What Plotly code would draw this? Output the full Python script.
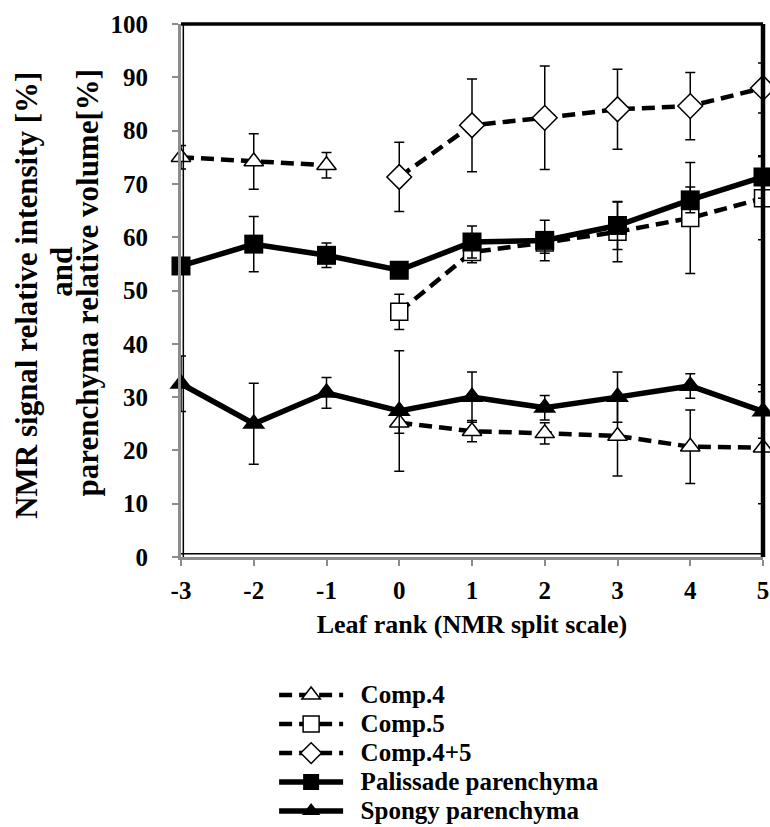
import plotly.graph_objects as go

# Leaf rank categories
rank_early = [-3, -2, -1]
rank_late = [0, 1, 2, 3, 4, 5]
rank_all = [-3, -2, -1, 0, 1, 2, 3, 4, 5]

# Comp.4 (two separate segments)
comp4_early = [75.0, 74.2, 73.5]
comp4_early_err = [2.2, 5.2, 2.4]
comp4_late = [25.2, 23.6, 23.2, 22.7, 20.7, 20.5]
comp4_late_err = [2.0, 2.0, 2.0, 7.5, 6.9, 10.5]

# Comp.5
comp5 = [46.0, 57.2, 59.0, 61.0, 63.6, 67.3]
comp5_err = [3.3, 2.0, 2.0, 5.6, 10.4, 7.8]

# Comp.4+5
comp45 = [71.3, 81.0, 82.4, 84.0, 84.6, 88.0]
comp45_err = [6.5, 8.7, 9.7, 7.5, 6.3, 4.7]

# Palissade parenchyma
palissade = [54.6, 58.7, 56.6, 53.8, 59.1, 59.4, 62.2, 67.0, 71.3]
palissade_err = [1.5, 5.2, 2.3, 1.0, 3.0, 3.8, 4.5, 2.4, 4.0]

# Spongy parenchyma
spongy = [32.5, 25.0, 30.8, 27.4, 30.0, 28.0, 30.0, 32.1, 27.3]
spongy_err = [5.2, 7.6, 2.9, 11.3, 4.7, 2.3, 4.7, 2.3, 5.0]

x_ticks = [-3, -2, -1, 0, 1, 2, 3, 4, 5]
y_ticks = [0, 10, 20, 30, 40, 50, 60, 70, 80, 90, 100]

y_title_lines = ["NMR signal relative intensity [%]", "and", "parenchyma relative volume[%]"]

FONT = "Liberation Serif, Times New Roman, Times, serif"

def bfont(size):
    return dict(family=FONT, size=size, color="black", weight="bold")

def err(vals):
    return dict(type="data", array=vals, visible=True, color="black",
                thickness=1.5, width=5)

def open_marker(sym, size):
    return dict(symbol=sym, size=size, color="white", line=dict(color="black", width=1.5))

def lname(s):
    return "<span style='font-size:25px'>\u00a0\u00a0" + s + "</span>"

DASH = "13px,7px"

fig = go.Figure()
fig.add_trace(go.Scatter(x=rank_early, y=comp4_early, mode="lines+markers",
                         name=lname("Comp.4"), legendgroup="c4",
                         line=dict(color="black", width=4.5, dash=DASH),
                         marker=open_marker("triangle-up", 17),
                         error_y=err(comp4_early_err), cliponaxis=False))
fig.add_trace(go.Scatter(x=rank_late, y=comp4_late, mode="lines+markers",
                         name=lname("Comp.4"), legendgroup="c4", showlegend=False,
                         line=dict(color="black", width=4.5, dash=DASH),
                         marker=open_marker("triangle-up", 17),
                         error_y=err(comp4_late_err), cliponaxis=False))
fig.add_trace(go.Scatter(x=rank_late, y=comp5, mode="lines+markers",
                         name=lname("Comp.5"),
                         line=dict(color="black", width=4.5, dash=DASH),
                         marker=open_marker("square", 17),
                         error_y=err(comp5_err), cliponaxis=False))
fig.add_trace(go.Scatter(x=rank_late, y=comp45, mode="lines+markers",
                         name=lname("Comp.4+5"),
                         line=dict(color="black", width=4.5, dash=DASH),
                         marker=open_marker("diamond", 19),
                         error_y=err(comp45_err), cliponaxis=False))
fig.add_trace(go.Scatter(x=rank_all, y=palissade, mode="lines+markers",
                         name=lname("Palissade parenchyma"),
                         line=dict(color="black", width=5.5),
                         marker=dict(symbol="square", size=19, color="black"),
                         error_y=err(palissade_err), cliponaxis=False))
fig.add_trace(go.Scatter(x=rank_all, y=spongy, mode="lines+markers",
                         name=lname("Spongy parenchyma"),
                         line=dict(color="black", width=5.5),
                         marker=dict(symbol="triangle-up", size=20, color="black"),
                         error_y=err(spongy_err), cliponaxis=False))

fig.update_layout(
    width=770, height=827,
    margin=dict(l=181, r=7, t=24, b=270, autoexpand=False),
    paper_bgcolor="white", plot_bgcolor="white",
    font=bfont(24),
    showlegend=True,
    legend=dict(x=0.16, y=-0.2225, xanchor="left", yanchor="top",
                itemwidth=64, font=bfont(20),
                tracegroupgap=0, bgcolor="rgba(0,0,0,0)"),
)
fig.update_xaxes(range=[-3, 5], tickvals=x_ticks, ticktext=[str(v) for v in x_ticks],
                 showgrid=False, zeroline=False,
                 showline=True, linecolor="#8c8c8c", linewidth=3,
                 ticks="outside", ticklen=6, tickcolor="#8c8c8c", tickwidth=2,
                 ticklabelstandoff=3,
                 tickfont=bfont(25),
                 title=dict(text="Leaf rank (NMR split scale)", standoff=12,
                            font=bfont(26)))
fig.update_yaxes(range=[0, 100], tickvals=y_ticks,
                 showgrid=False, zeroline=False,
                 showline=True, linecolor="#8c8c8c", linewidth=3,
                 ticks="outside", ticklen=6, tickcolor="#8c8c8c", tickwidth=2,
                 ticklabelstandoff=19,
                 tickfont=bfont(25))

# plot frame: thin black inner line on left/bottom, thick black on top/right
fig.add_shape(type="line", xref="paper", yref="paper", x0=0, x1=1, y0=1, y1=1,
              line=dict(color="black", width=3.5))
fig.add_shape(type="line", xref="paper", yref="paper", x0=1, x1=1, y0=0, y1=1,
              line=dict(color="black", width=4.5))
fig.add_shape(type="line", xref="paper", yref="paper", x0=0.004, x1=0.004, y0=0, y1=1,
              line=dict(color="black", width=1.5))
fig.add_shape(type="line", xref="paper", yref="paper", x0=0, x1=1, y0=0.006, y1=0.006,
              line=dict(color="black", width=1.5))

# y-axis title: three rotated lines with tight spacing
title_x = [-0.2646, -0.2045, -0.1615]
title_y = [0.49, 0.535, 0.515]
for txt, xx, yy in zip(y_title_lines, title_x, title_y):
    fig.add_annotation(xref="paper", yref="paper", x=xx, y=yy, text=txt,
                       textangle=-90, showarrow=False, xanchor="center", yanchor="middle",
                       font=bfont(31))

fig.write_html("out.html", config={"displayModeBar": False},
               post_script="document.body.style.margin='0';document.body.style.overflow='hidden';")
